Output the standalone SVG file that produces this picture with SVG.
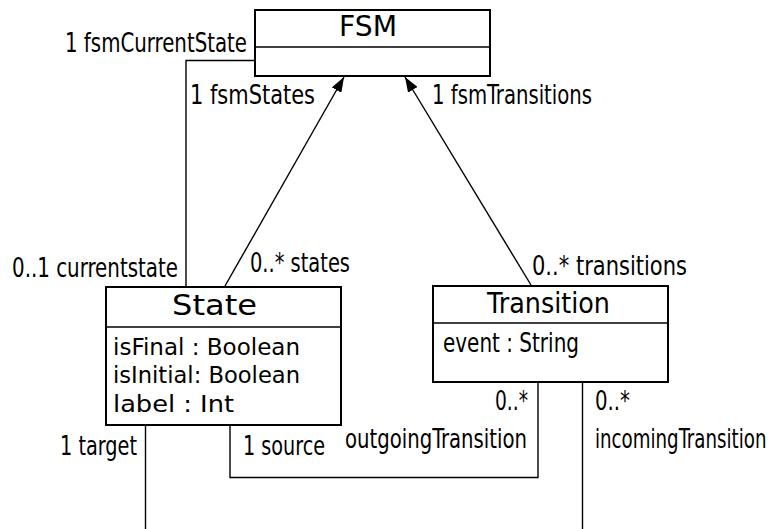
<svg xmlns="http://www.w3.org/2000/svg" width="784" height="529" viewBox="0 0 784 529">
<defs>
<style>
.box{fill:#fff;stroke:#000;stroke-width:2}
.div{stroke:#000;stroke-width:1.6}
.ln{fill:none;stroke:#000;stroke-width:1.4}
.title{font-family:"DejaVu Sans",sans-serif;font-size:29px;fill:#000}
.attr{font-family:"DejaVu Sans",sans-serif;font-size:23px;fill:#000}
.attrc{font-family:"DejaVu Sans Condensed","DejaVu Sans",sans-serif;font-size:26px;fill:#000}
.lbl{font-family:"DejaVu Sans Condensed","DejaVu Sans",sans-serif;font-size:27px;fill:#000}
</style>
<marker id="arr" viewBox="0 0 15 11" refX="15" refY="5.5" markerWidth="15" markerHeight="11" markerUnits="userSpaceOnUse" orient="auto">
<path d="M0,0 L15,5.5 L0,11 z" fill="#000"/>
</marker>
</defs>
<rect width="784" height="529" fill="#fff"/>
<g id="connectors">
<polyline class="ln" points="186,287 186,60.5 255,60.5"/>
<line class="ln" x1="225" y1="286" x2="344" y2="77" marker-end="url(#arr)"/>
<line class="ln" x1="531" y1="285" x2="405" y2="77" marker-end="url(#arr)"/>
<polyline class="ln" points="538,382 538,477.5 230,477.5 230,425"/>
<line class="ln" x1="145.5" y1="425" x2="145.5" y2="529"/>
<line class="ln" x1="582.5" y1="382" x2="582.5" y2="529"/>
<text class="lbl" x="65" y="52" textLength="182" lengthAdjust="spacingAndGlyphs">1 fsmCurrentState</text>
<text class="lbl" x="190" y="104" textLength="125" lengthAdjust="spacingAndGlyphs">1 fsmStates</text>
<text class="lbl" x="432" y="104" textLength="160" lengthAdjust="spacingAndGlyphs">1 fsmTransitions</text>
<text class="lbl" x="12" y="277" textLength="166" lengthAdjust="spacingAndGlyphs">0..1 currentstate</text>
<text class="lbl" x="250" y="272" textLength="100" lengthAdjust="spacingAndGlyphs">0..* states</text>
<text class="lbl" x="532" y="275" textLength="155" lengthAdjust="spacingAndGlyphs">0..* transitions</text>
<text class="lbl" x="60" y="455" textLength="77" lengthAdjust="spacingAndGlyphs">1 target</text>
<text class="lbl" x="243" y="455" textLength="82" lengthAdjust="spacingAndGlyphs">1 source</text>
<text class="lbl" x="495" y="410" textLength="33" lengthAdjust="spacingAndGlyphs">0..*</text>
<text class="lbl" x="345" y="448" textLength="182" lengthAdjust="spacingAndGlyphs">outgoingTransition</text>
<text class="lbl" x="595" y="410" textLength="35" lengthAdjust="spacingAndGlyphs">0..*</text>
<text class="lbl" transform="translate(595,448) scale(0.75,1)" x="0" y="0">incomingTransition</text>
</g>
<g id="FSM">
<rect class="box" x="255" y="10" width="235" height="66"/>
<line class="div" x1="255" y1="47" x2="490" y2="47"/>
<text class="title" x="339" y="36" textLength="58" lengthAdjust="spacingAndGlyphs">FSM</text>
</g>
<g id="State">
<rect class="box" x="106" y="287" width="235" height="138"/>
<line class="div" x1="106" y1="327" x2="341" y2="327"/>
<text class="title" x="172" y="315" textLength="85" lengthAdjust="spacingAndGlyphs">State</text>
<text class="attr" x="113" y="355" textLength="187" lengthAdjust="spacingAndGlyphs">isFinal : Boolean</text>
<text class="attr" x="113" y="383" textLength="187" lengthAdjust="spacingAndGlyphs">isInitial: Boolean</text>
<text class="attr" x="113" y="412" textLength="121" lengthAdjust="spacingAndGlyphs">label : Int</text>
</g>
<g id="Transition">
<rect class="box" x="433" y="286" width="235" height="96"/>
<line class="div" x1="433" y1="323" x2="668" y2="323"/>
<text class="title" x="487" y="313" textLength="123" lengthAdjust="spacingAndGlyphs">Transition</text>
<text class="attrc" x="443" y="352" textLength="136" lengthAdjust="spacingAndGlyphs">event : String</text>
</g>
</svg>
